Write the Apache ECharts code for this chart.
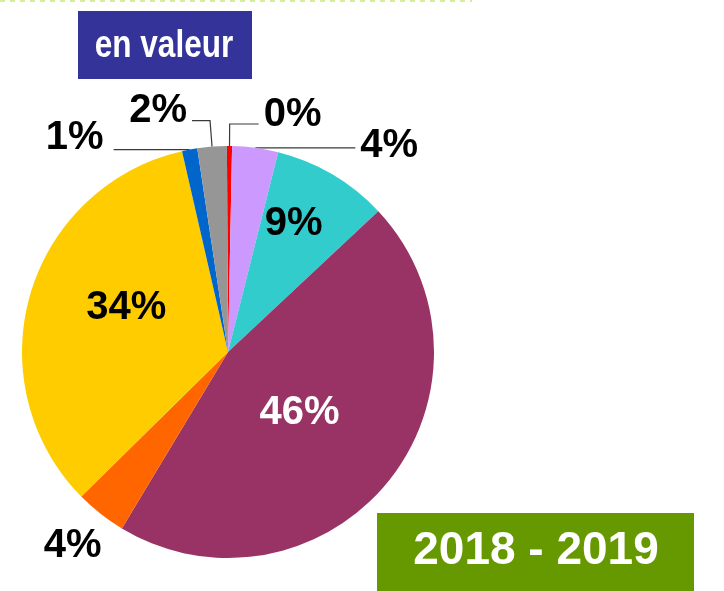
<!DOCTYPE html>
<html>
<head>
<meta charset="utf-8">
<script src="https://cdn.jsdelivr.net/npm/echarts@6/dist/echarts.min.js"></script>
<style>
html,body{margin:0;padding:0;background:#fff;}
#chart{width:724px;height:591px;}
</style>
</head>
<body>
<div id="chart"></div>
<script>
// Data (clockwise from 12 o'clock)
var categories = ['Catégorie A', 'Catégorie B', 'Catégorie C', 'Catégorie D', 'Catégorie E', 'Catégorie F', 'Catégorie G', 'Catégorie H'];
var values = [0.4, 3.6, 9.1, 45.6, 4.0, 33.8, 1.2, 2.3];
var labels = ['0%', '4%', '9%', '46%', '4%', '34%', '1%', '2%'];
var colors = ['#ff0000', '#cc99ff', '#33cccc', '#993366', '#ff6600', '#ffcc00', '#0066cc', '#969696'];
var titleText = 'en valeur';
var periodText = '2018 - 2019';

var FONT = '"Liberation Sans", Arial, sans-serif';
var lineStyle = { color: '#3a3a3a', width: 1.2 };

// per-item label placement: spacer above/below (px of line height), horizontal padding, leader line
var labelCfg = [
  { position: 'outside', above: 0, below: 18, pad: [0, 0, 0, 0], line: { show: true, length: 22, length2: 29 } },
  { position: 'outside', above: 0, below: 4, pad: [0, 0, 0, 0], line: { show: true, length: 0, length2: 100 } },
  { position: 'inside', above: 0, below: 74, pad: [0, 0, 0, 24], line: { show: false } },
  { position: 'inside', above: 0, below: 12, pad: [0, 22, 0, 0], line: { show: false } },
  { position: 'outside', above: 64, below: 0, pad: [0, 0, 0, 0], line: { show: false, length: 0, length2: -6 } },
  { position: 'inside', above: 0, below: 28, pad: [0, 0, 0, 0], line: { show: false } },
  { position: 'outside', above: 0, below: 24, pad: [0, 5, 0, 0], line: { show: true, length: 0, length2: 76 } },
  { position: 'outside', above: 0, below: 20, pad: [0, 0, 0, 0], line: { show: true, length: 26, length2: 18 } }
];

var data = categories.map(function (name, i) {
  var c = labelCfg[i];
  var txtColor = i === 3 ? '#ffffff' : '#000000';
  return {
    name: name,
    value: values[i],
    itemStyle: { color: colors[i] },
    label: {
      position: c.position,
      padding: c.pad,
      rich: {
        t: { fontFamily: FONT, fontWeight: 'bold', fontSize: 40, lineHeight: 42, color: txtColor },
        a: { fontSize: 1, lineHeight: c.above || 1 },
        b: { fontSize: 1, lineHeight: c.below || 1 }
      }
    },
    labelLine: {
      show: c.line.show,
      length: c.line.length,
      length2: c.line.length2,
      lineStyle: lineStyle
    }
  };
});

var chart = echarts.init(document.getElementById('chart'), null, { renderer: 'canvas' });
chart.setOption({
  backgroundColor: '#ffffff',
  animation: false,
  graphic: [
    {
      type: 'line',
      shape: { x1: 0, y1: 1, x2: 472, y2: 1 },
      style: { stroke: '#d6ee9a', lineWidth: 2, lineDash: [5, 5] }
    },
    {
      type: 'rect',
      shape: { x: 78, y: 11, width: 174, height: 68 },
      style: { fill: '#333399' }
    },
    {
      type: 'text',
      x: 164, y: 47,
      scaleX: 0.83,
      style: {
        text: titleText,
        fill: '#ffffff',
        font: 'bold 38px ' + FONT,
        textAlign: 'center',
        textVerticalAlign: 'middle'
      }
    },
    {
      type: 'rect',
      shape: { x: 377, y: 513, width: 317, height: 80 },
      style: { fill: '#669900' }
    },
    {
      type: 'text',
      x: 536, y: 551,
      style: {
        text: periodText,
        fill: '#ffffff',
        font: 'bold 46px ' + FONT,
        textAlign: 'center',
        textVerticalAlign: 'middle'
      }
    }
  ],
  series: [{
    type: 'pie',
    center: [228, 352],
    radius: [0, 206],
    startAngle: 90.3,
    clockwise: true,
    avoidLabelOverlap: false,
    silent: true,
    itemStyle: { borderWidth: 0 },
    label: {
      show: true,
      fontFamily: FONT,
      fontWeight: 'bold',
      fontSize: 40,
      formatter: function (p) {
        var c = labelCfg[p.dataIndex];
        var s = '';
        if (c.above) s += '{a| }\n';
        s += '{t|' + labels[p.dataIndex] + '}';
        if (c.below) s += '\n{b| }';
        return s;
      }
    },
    labelLine: { show: true, lineStyle: lineStyle },
    data: data
  }]
});
</script>
</body>
</html>
